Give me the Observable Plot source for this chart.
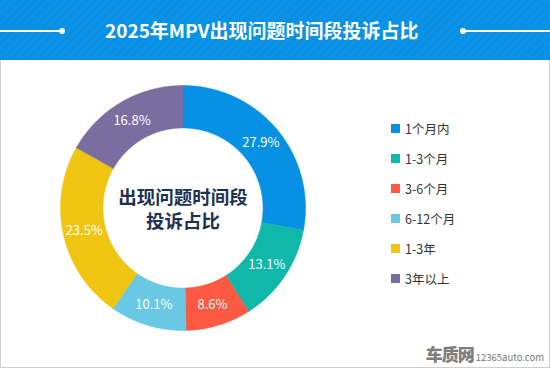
<!DOCTYPE html>
<html><head><meta charset="utf-8">
<script src="https://cdn.jsdelivr.net/npm/d3@7"></script>
<script src="https://cdn.jsdelivr.net/npm/@observablehq/plot@0.6"></script>
<style>
html,body{margin:0;padding:0;background:#fff;}
body{width:550px;height:368px;overflow:hidden;font-family:"Noto Sans CJK SC","Noto Sans",sans-serif;}
#banner{position:absolute;left:0;top:0;width:550px;height:60px;
 background:repeating-linear-gradient(135deg,#0b8fe2 0px,#0b8fe2 3px,#0994e8 3px,#0994e8 6px);}
#banner .t{position:absolute;left:105px;top:14px;text-align:left;color:#fff;font-weight:700;font-size:19px;line-height:32px;white-space:nowrap;}
#banner .ln{position:absolute;top:30px;height:1.5px;background:#fff;}
#banner .dt{position:absolute;top:27.5px;width:6px;height:6px;border-radius:3px;background:#fff;}
#panel{position:absolute;left:0;top:60px;width:548px;height:307px;border-left:1px solid #cfcfcf;border-right:1px solid #cfcfcf;border-bottom:1px solid #cfcfcf;}
#chart{position:absolute;left:0;top:60px;}
#legend{position:absolute;left:391px;top:120px;}
#legend .it{position:absolute;left:0;height:16px;display:flex;align-items:center;white-space:nowrap;font-size:12.5px;color:#333;}
#legend .sw{width:9px;height:9px;margin-right:5px;}
#wm{position:absolute;right:6px;bottom:5px;color:#8a8a8a;display:flex;align-items:flex-end;}
#wm .a{font-size:17px;font-weight:900;letter-spacing:-1px;color:#7d7d7d;line-height:18px;}
#wm .b{font-size:9.5px;margin-left:2px;line-height:12px;color:#777;}
</style></head>
<body>
<div id="panel"></div>
<div id="banner">
 <div class="ln" style="left:0;width:62px"></div><div class="dt" style="left:59px"></div>
 <div class="ln" style="left:463px;width:87px"></div><div class="dt" style="left:460px"></div>
 <div class="t">2025年MPV出现问题时间段投诉占比</div>
</div>
<div id="chart"></div>
<div id="legend"></div>
<div id="wm"><span class="a">车质网</span><span class="b">12365auto.com</span></div>
<script>
const categories = ["1个月内","1-3个月","3-6个月","6-12个月","1-3年","3年以上"];
const values = [27.9, 13.1, 8.6, 10.1, 23.5, 16.8];
const colors = ["#0791e4","#0fb8a9","#fd5841","#69c8e3","#efc512","#7a6ea1"];
const centerLines = ["出现问题时间段","投诉占比"];

const W = 550, H = 308;
const cx = 182.5, cy = 147.5, rIn = 80, rOut = 122.5;

const data = categories.map((c,i)=>({category:c, value:values[i]}));
const arcs = d3.pie().sort(null).value(d=>d.value)(data);

const pts = [];
arcs.forEach(a=>{
  const n = Math.max(8, Math.ceil((a.endAngle-a.startAngle)/0.01));
  const ring = [];
  for(let k=0;k<=n;k++){const t=a.startAngle+(a.endAngle-a.startAngle)*k/n; ring.push([t,rOut]);}
  for(let k=n;k>=0;k--){const t=a.startAngle+(a.endAngle-a.startAngle)*k/n; ring.push([t,rIn]);}
  ring.push([a.startAngle,rOut]);
  ring.forEach(([t,r],j)=>pts.push({category:a.data.category, j, x:cx+Math.sin(t)*r, y:cy-Math.cos(t)*r}));
});
const labels = arcs.map(a=>{const t=(a.startAngle+a.endAngle)/2, r=(rIn+rOut)/2;
  return {x:cx+Math.sin(t)*r, y:cy-Math.cos(t)*r, text:a.data.value.toFixed(1)+"%"};});
const center = centerLines.map((t,i)=>({text:t, i}));

const plot = Plot.plot({
  width:W, height:H, margin:0,
  x:{domain:[0,W], range:[0,W], axis:null},
  y:{domain:[0,H], range:[0,H], axis:null},
  color:{domain:categories, range:colors},
  style:{background:"transparent", fontFamily:"'Noto Sans CJK SC','Noto Sans',sans-serif"},
  marks:[
    Plot.line(pts,{x:"x", y:"y", z:"category", fill:"category", stroke:"category", strokeWidth:0.5, curve:"linear-closed"}),
    Plot.text(labels,{x:"x", y:"y", text:"text", fill:"white", fontSize:13}),
    Plot.text(center,{x:()=>cx, y:()=>cy, dy:-10, filter:d=>d.i===0, text:"text", fill:"#1d3152", fontSize:18.5, fontWeight:"bold"}),
    Plot.text(center,{x:()=>cx, y:()=>cy, dy:14, filter:d=>d.i===1, text:"text", fill:"#1d3152", fontSize:18.5, fontWeight:"bold"})
  ]
});
document.getElementById("chart").appendChild(plot);

const lg = document.getElementById("legend");
categories.forEach((c,i)=>{
  const it=document.createElement("div"); it.className="it"; it.style.top=(i*30)+"px";
  it.innerHTML=`<span class="sw" style="background:${colors[i]}"></span><span>${c}</span>`;
  lg.appendChild(it);
});
</script>
</body></html>
